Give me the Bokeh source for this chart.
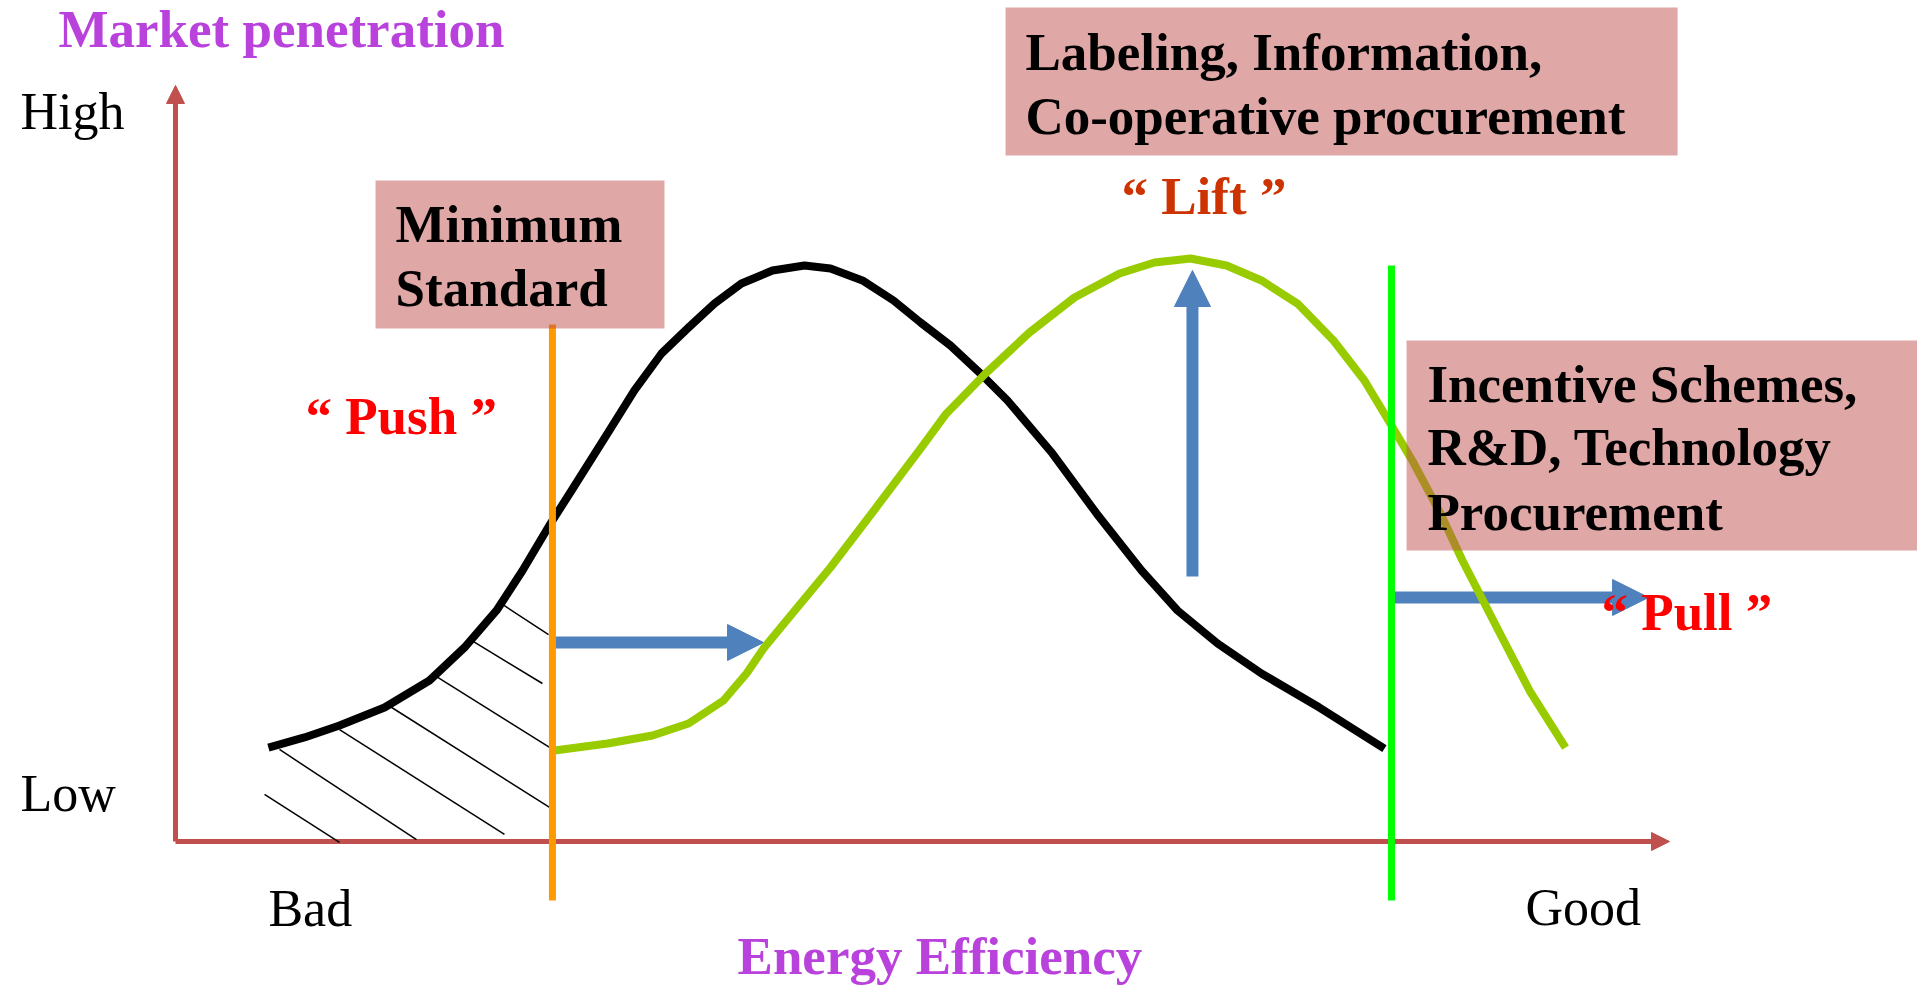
from bokeh.plotting import figure
from bokeh.models import Range1d, Arrow, NormalHead
from bokeh.core.properties import value
from bokeh.embed import file_html
from bokeh.resources import INLINE

# ---------------- data (x: energy efficiency 0-100, y: market penetration 0-100) ----------------
current_eff = [6.22, 8.63, 10.98, 13.99, 17.00, 19.34, 21.49, 23.23, 25.10, 26.51, 28.92, 30.72,
               32.53, 34.34, 36.08, 37.88, 39.96, 42.10, 43.84, 45.98, 48.06, 49.87, 51.87, 53.88,
               55.69, 58.70, 61.65, 64.66, 67.07, 69.75, 72.69, 76.57, 80.92]
current_pen = [12.43, 13.76, 15.34, 17.72, 21.30, 25.66, 30.56, 35.85, 42.06, 46.43, 53.97, 59.66,
               64.55, 67.99, 71.16, 73.81, 75.53, 76.19, 75.79, 74.21, 71.56, 68.65, 65.61, 61.90,
               58.33, 51.32, 43.39, 35.85, 30.56, 26.19, 22.22, 17.72, 12.30]

improved_eff = [25.37, 28.92, 31.93, 34.34, 36.68, 38.22, 39.36, 40.90, 43.84, 46.85, 49.87, 51.54,
                54.22, 57.16, 60.17, 63.19, 65.53, 67.94, 70.35, 72.69, 75.10, 77.51, 79.58, 81.39,
                82.86, 84.67, 86.14, 88.55, 90.63, 93.04]
improved_pen = [12.04, 12.96, 14.02, 15.61, 18.65, 22.22, 25.53, 29.23, 36.24, 44.05, 51.98, 56.48,
                61.90, 67.33, 71.96, 75.13, 76.59, 77.12, 76.19, 74.21, 71.16, 66.27, 60.98, 55.03,
                50.13, 43.39, 37.17, 27.91, 19.97, 12.43]

# thresholds
min_standard_eff = 25.23
top_runner_eff = 81.39

# policy arrows (start, end)
push_arrow = dict(x0=25.43, y0=26.32, x1=39.36, y1=26.32)
lift_arrow = dict(x0=68.07, y0=35.05, x1=68.07, y1=75.53)
pull_arrow = dict(x0=81.50, y0=32.28, x1=98.60, y1=32.28)

# hatched region under the current curve, left of the minimum standard
hatch_x0 = [5.96, 6.96, 10.98, 14.26, 17.34, 19.81, 21.89]
hatch_y0 = [6.22, 12.17, 14.81, 17.99, 21.96, 26.59, 31.35]
hatch_x1 = [10.98, 16.13, 22.02, 25.17, 25.17, 24.56, 24.97]
hatch_y1 = [-0.13, 0.26, 0.93, 4.36, 12.30, 20.90, 27.38]

# text
axis_title_y = "Market penetration"
axis_title_x = "Energy Efficiency"
y_ticks = ["High", "Low"]
x_ticks = ["Bad", "Good"]
box_min_lines = ["Minimum", "Standard"]
box_label_lines = ["Labeling, Information,", "Co-operative procurement"]
box_incent_lines = ["Incentive Schemes,", "R&D, Technology", "Procurement"]
push_text = "\u201c Push \u201d"
lift_text = "\u201c Lift \u201d"
pull_text = "\u201c Pull \u201d"

# ---------------- layout ----------------
W, H = 1917, 985
OX, OY = 175, 841          # page pixel of the axes origin
SX, SY = 14.94, 7.56       # pixels per unit
FONT = "Liberation Serif"
AXIS_RED = "#C0504D"
BLUE = "#4F81BD"
PURPLE = "#BA42DC"
TEXT_DY = -17              # baseline correction in screen pixels

x_range = Range1d(-OX / SX, (W - OX) / SX)
y_range = Range1d((OY - H) / SY, OY / SY)

p = figure(width=W, height=H, x_range=x_range, y_range=y_range,
           x_axis_type=None, y_axis_type=None, toolbar_location=None,
           output_backend="svg", min_border=0, outline_line_color=None)
p.background_fill_color = "white"
p.border_fill_color = "white"

# axes with arrow heads
for xs, ys, xe, ye in [(0, 0, 100, 0), (0, 0, 0, 100)]:
    p.add_layout(Arrow(end=NormalHead(size=18, fill_color=AXIS_RED, line_color=AXIS_RED),
                       x_start=xs, y_start=ys, x_end=xe, y_end=ye,
                       line_color=AXIS_RED, line_width=5, level="underlay"))

# blue policy arrows
for a in (push_arrow, lift_arrow, pull_arrow):
    p.add_layout(Arrow(end=NormalHead(size=36, fill_color=BLUE, line_color=BLUE, line_width=1),
                       x_start=a["x0"], y_start=a["y0"], x_end=a["x1"], y_end=a["y1"],
                       line_color=BLUE, line_width=12, level="underlay"))

# hatching
p.segment(x0=hatch_x0, y0=hatch_y0, x1=hatch_x1, y1=hatch_y1, line_color="black", line_width=1.5)

# curves
p.line(current_eff, current_pen, line_color="black", line_width=8, line_join="round")
p.line(improved_eff, improved_pen, line_color="#99CC00", line_width=8, line_join="round")

# threshold lines
p.segment(x0=[min_standard_eff], y0=[68.4], x1=[min_standard_eff], y1=[-7.8],
          line_color="#FF9900", line_width=7)
p.segment(x0=[top_runner_eff], y0=[76.2], x1=[top_runner_eff], y1=[-7.8],
          line_color="#00FF00", line_width=7)

# boxes (semi transparent)
p.quad(left=[13.39, 55.56, 82.40], right=[32.73, 100.54, 130.0],
       bottom=[67.86, 90.74, 38.49], top=[87.43, 110.32, 66.27],
       fill_color=AXIS_RED, fill_alpha=0.5, line_color=None)

bold = dict(text_font=value(FONT), text_font_size="53px", text_font_style="bold",
            text_baseline="alphabetic", text_align="left", y_offset=TEXT_DY)
regular = dict(text_font=value(FONT), text_font_size="52px", text_font_style="normal",
               text_baseline="alphabetic", text_align="left", y_offset=TEXT_DY)

# box texts
p.text(x=[14.73, 14.73, 56.89, 56.89, 83.80, 83.80, 83.80],
       y=[79.37, 70.90, 102.12, 93.78, 58.33, 49.87, 41.40],
       text=box_min_lines + box_label_lines + box_incent_lines,
       text_color="black", **bold)

# axis titles
p.text(x=[-7.83, 37.62], y=[105.29, -17.46], text=[axis_title_y, axis_title_x],
       text_color=PURPLE, **bold)

# tick words
p.text(x=[-10.37, -10.37, 6.22, 90.36], y=[94.31, 4.10, -11.11, -10.98],
       text=y_ticks + x_ticks, text_color="black", **regular)

# policy words
p.text(x=[8.70, 95.45], y=[54.10, 28.17], text=[push_text, pull_text], text_color="#FF0000", **bold)
p.text(x=[63.32], y=[83.20], text=[lift_text], text_color="#CC3300", **bold)

open("out.html", "w").write(file_html(p, INLINE))
